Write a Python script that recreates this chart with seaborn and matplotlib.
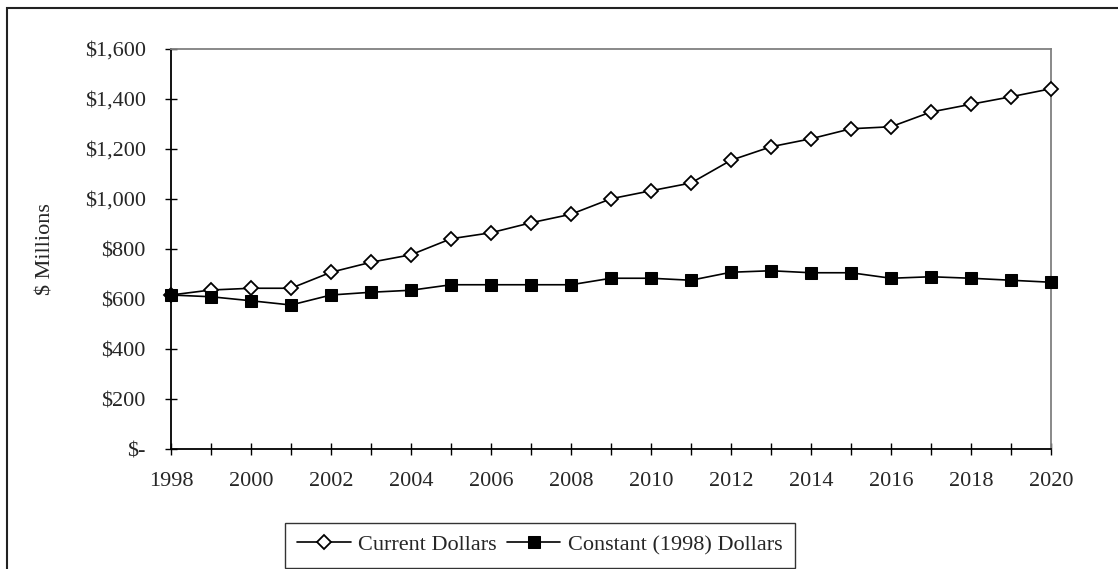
import matplotlib
matplotlib.use("Agg")
import matplotlib.pyplot as plt
import matplotlib.ticker as mticker
from matplotlib.patches import Rectangle
import pandas as pd
import seaborn as sns

years = list(range(1998, 2021))
current_dollars = [616, 636, 643, 643, 707, 747, 777, 841, 865, 905, 939, 1001,
                   1033, 1064, 1155, 1209, 1241, 1281, 1289, 1348, 1379, 1409, 1441]
constant_dollars = [616, 609, 593, 576, 616, 627, 635, 657, 657, 657, 657, 683,
                    683, 675, 707, 713, 705, 705, 683, 689, 683, 675, 667]
series_labels = ["Current Dollars", "Constant (1998) Dollars"]

sns.set_style("white")
plt.rcParams["font.family"] = ["Liberation Serif", "DejaVu Serif"]
plt.rcParams["font.size"] = 16

df = pd.DataFrame({"Year": years, "Current": current_dollars, "Constant": constant_dollars})

fig = plt.figure(figsize=(11.18, 5.69), dpi=100)
ax = fig.add_axes([171 / 1118, 1 - 449 / 569, 880 / 1118, 400 / 569])

sns.lineplot(data=df, x="Year", y="Current", ax=ax, color="black", linewidth=1.2,
             marker="D", markersize=7, markerfacecolor="white", markeredgecolor="black",
             markeredgewidth=1.3, label=series_labels[0], clip_on=False, zorder=3)
sns.lineplot(data=df, x="Year", y="Constant", ax=ax, color="black", linewidth=1.2,
             marker="s", markersize=8.5, markerfacecolor="black", markeredgecolor="black",
             label=series_labels[1], clip_on=False, zorder=4)

ax.set_xlim(1998, 2020)
ax.set_ylim(0, 1600)
ax.set_xticks(years)
ax.set_xticklabels([str(y) if y % 2 == 0 else "" for y in years])
ax.yaxis.set_major_locator(mticker.MultipleLocator(200))


def money(v, pos):
    if v == 0:
        return "$-"
    return f"${v:,.0f}"


ax.yaxis.set_major_formatter(mticker.FuncFormatter(money))
ax.tick_params(axis="y", left=True, direction="inout", length=8.6, width=1, color="black",
               pad=14, labelsize=16)
ax.tick_params(axis="x", bottom=True, direction="inout", length=8.6, width=1, color="black",
               pad=12, labelsize=16)

for side in ["left", "bottom"]:
    ax.spines[side].set_color("black")
    ax.spines[side].set_linewidth(1.3)
for side in ["top", "right"]:
    ax.spines[side].set_color("#808080")
    ax.spines[side].set_linewidth(1.3)

ax.set_xlabel("")
ax.set_ylabel("$ Millions", fontsize=16)
ax.yaxis.set_label_coords((56 - 171) / 880, 0.5)

ax.get_legend().remove()
handles, labels = ax.get_legend_handles_labels()
leg = fig.legend(handles, labels, loc="center", bbox_to_anchor=(540 / 1118, 1 - 545 / 569),
                 ncol=2, frameon=True, fancybox=False, fontsize=16, handlelength=2.4,
                 handletextpad=0.35, columnspacing=0.45, borderpad=0.55, borderaxespad=0)
leg.get_frame().set_edgecolor("black")
leg.get_frame().set_linewidth(1.0)

# outer chart-area border (right and bottom edges fall outside the image)
fig.patches.append(Rectangle((7 / 1118, -0.1), 1.2, 1 - 8 / 569 + 0.1, transform=fig.transFigure,
                             fill=False, edgecolor="#222222", linewidth=1.5))

fig.savefig("out.png", dpi=100)
